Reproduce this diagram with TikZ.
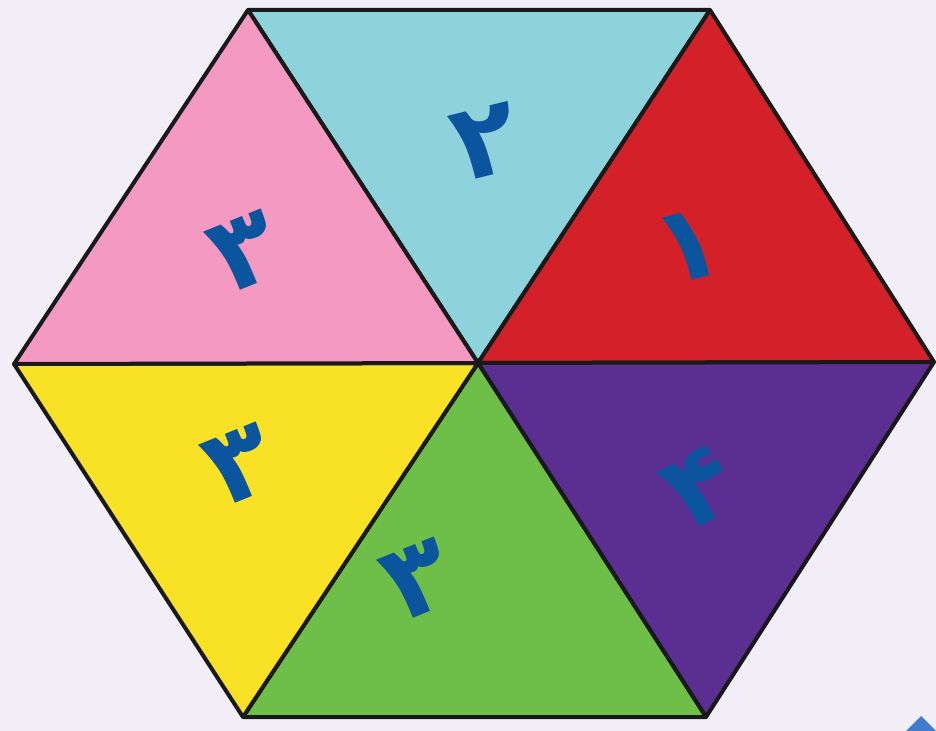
\documentclass[tikz,border=0pt]{standalone}
\usepackage{fontspec}
\TeXXeTstate=1
\newfontfamily\arabicfont[Script=Arabic]{DejaVu Sans}
\definecolor{bg}{HTML}{F1EEF7}
\definecolor{cyanT}{HTML}{8ED3DC}
\definecolor{redT}{HTML}{D42129}
\definecolor{pinkT}{HTML}{F49AC2}
\definecolor{yellowT}{HTML}{F9E125}
\definecolor{greenT}{HTML}{6EBF47}
\definecolor{purpleT}{HTML}{5B2E91}
\definecolor{digit}{HTML}{0B559E}
\definecolor{corner}{HTML}{3F7CCB}
\begin{document}
\begin{tikzpicture}[x=0.75pt,y=-0.75pt,
  tri/.style={draw=black!90, line width=3pt, line join=round},
  num/.style={text=digit, font=\arabicfont\bfseries\fontsize{80}{80}\selectfont, inner sep=0pt, rotate=22}]
\fill[bg] (0,0) rectangle (936,731);
\useasboundingbox (0,0) rectangle (936,731);
\coordinate (TL) at (248,10);
\coordinate (TR) at (710,10);
\coordinate (R) at (934,362);
\coordinate (BR) at (706,717);
\coordinate (BL) at (243,717);
\coordinate (L) at (14,364);
\coordinate (C) at (478,363);
% small blue shape at bottom-right corner
\fill[corner] (921,716) -- (936,731) -- (906,731) -- cycle;
\filldraw[tri, fill=cyanT] (TL) -- (TR) -- (C) -- cycle;
\filldraw[tri, fill=redT] (TR) -- (R) -- (C) -- cycle;
\filldraw[tri, fill=purpleT] (R) -- (BR) -- (C) -- cycle;
\filldraw[tri, fill=greenT] (BR) -- (BL) -- (C) -- cycle;
\filldraw[tri, fill=yellowT] (BL) -- (L) -- (C) -- cycle;
\filldraw[tri, fill=pinkT] (L) -- (TL) -- (C) -- cycle;
\node[num, rotate=-8] (n2) at (486,142) {۲};
\node[num, rotate=-7] (n1) at (688,246) {۱};
\node[num] (n3a) at (245,252) {۳};
\node[num] (n3b) at (240,465) {۳};
\node[num] (n3c) at (418,580) {۳};
\node[num, rotate=6] (n4) at (700,488) {۴};
\end{tikzpicture}
\end{document}
